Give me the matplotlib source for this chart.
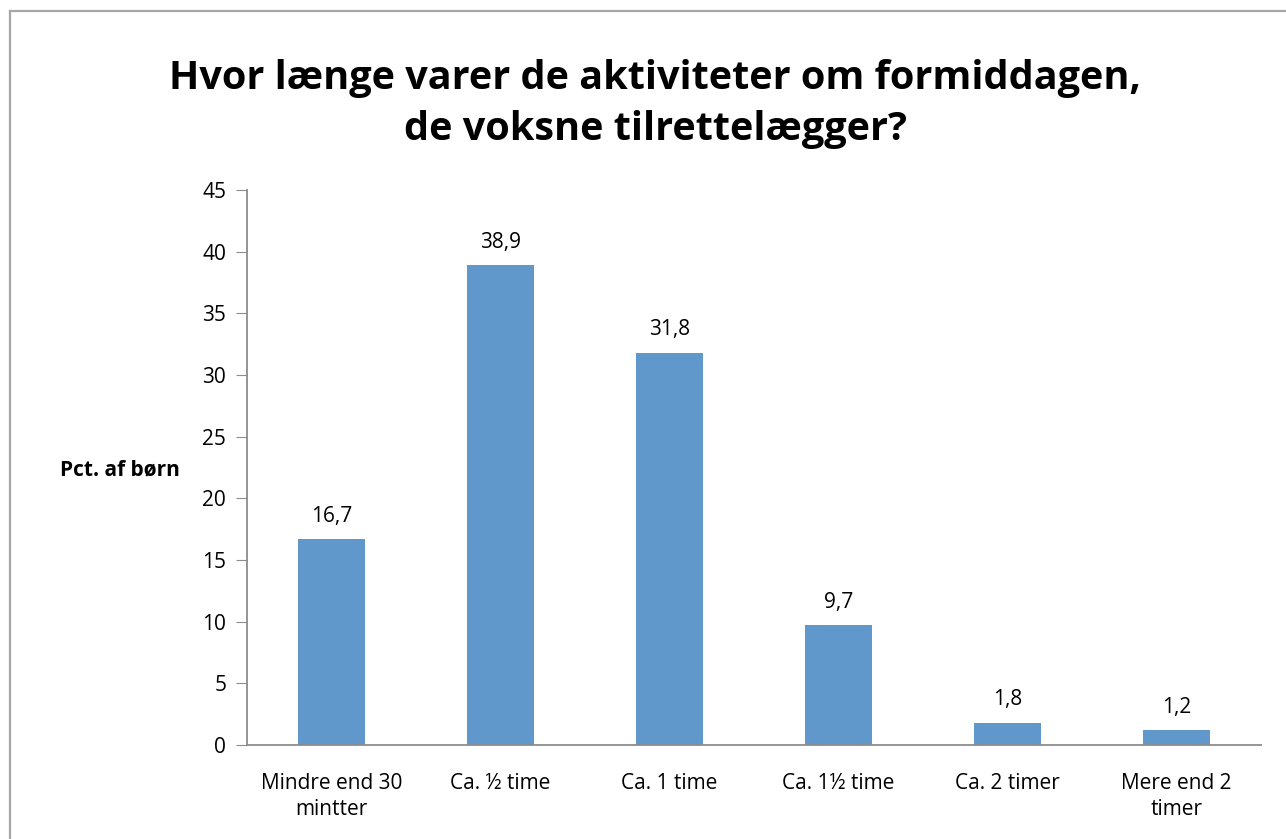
import matplotlib
matplotlib.use('Agg')
import matplotlib.pyplot as plt
import numpy as np

categories = ['Mindre end 30\nmintter', 'Ca. ½ time', 'Ca. 1 time',
              'Ca. 1½ time', 'Ca. 2 timer', 'Mere end 2\ntimer']
values = [16.7, 38.9, 31.8, 9.7, 1.8, 1.2]
value_labels = ['16,7', '38,9', '31,8', '9,7', '1,8', '1,2']
yticks = [0, 5, 10, 15, 20, 25, 30, 35, 40, 45]

plt.rcParams['font.family'] = ['Open Sans', 'DejaVu Sans']

fig = plt.figure(figsize=(12.86, 8.39), dpi=100)
W, H = 1286, 839
# chart area frame (gray border, cut off at right/bottom)
fig.add_artist(plt.Line2D([10 / W, 10 / W], [0, 1 - 11 / H], color='#a6a6a6', lw=1.6))
fig.add_artist(plt.Line2D([10 / W, 1], [1 - 11 / H, 1 - 11 / H], color='#a6a6a6', lw=1.6))

ax = fig.add_axes([247 / W, 1 - 745 / H, (1261 - 247) / W, (745 - 190) / H])
xs = np.arange(len(categories))
ax.bar(xs, values, width=0.395, color='#6198cc')
for x, v, lab in zip(xs, values, value_labels):
    ax.text(x, v + 1.0, lab, ha='center', va='bottom', fontsize=15)

ax.set_xlim(-0.5, len(categories) - 0.5)
ax.set_ylim(0, 45)
ax.set_yticks(yticks)
ax.set_yticklabels([str(t) for t in yticks], fontsize=15)
ax.set_xticks(xs)
ax.set_xticklabels(categories, fontsize=15, linespacing=1.35)
ax.tick_params(axis='x', length=0, pad=20)
ax.tick_params(axis='y', length=8, color='#8c8c8c', pad=7)
for s in ['top', 'right']:
    ax.spines[s].set_visible(False)
for s in ['left', 'bottom']:
    ax.spines[s].set_color('#8c8c8c')
    ax.spines[s].set_linewidth(1.3)

fig.text(180 / W, 1 - 470 / H, 'Pct. af børn', ha='right', va='center',
         fontsize=15, fontweight='bold')
fig.text(655 / W, 1 - 104 / H, 'Hvor længe varer de aktiviteter om formiddagen,\nde voksne tilrettelægger?',
         ha='center', va='center', fontsize=28.5, fontweight='bold', linespacing=1.4)

fig.savefig('out.png', dpi=100)
